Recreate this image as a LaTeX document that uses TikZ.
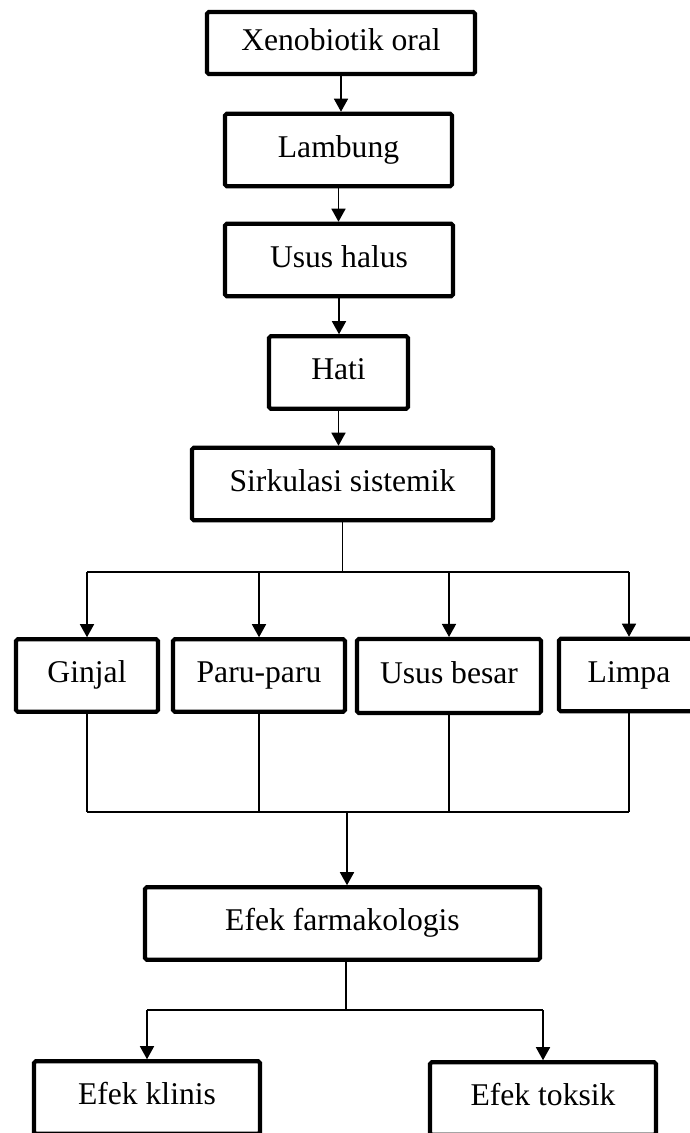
\documentclass[tikz,border=0pt]{standalone}
\usepackage{fontspec}
\setmainfont{Liberation Serif}
\usetikzlibrary{arrows.meta}

\tikzset{
  organ/.style={draw, line width=2.3pt, rounded corners=1pt, minimum height=1.45cm,
    inner sep=2pt, text height=12pt, text depth=4pt, font=\fontsize{18}{22}\selectfont},
  link/.style={line width=0.85pt},
  arr/.style={link, -{Triangle[length=0.26cm,width=0.28cm]}}
}

\begin{document}
\begin{tikzpicture}
  \useasboundingbox (0,0) rectangle (13.8,-22.66);
  % jalur absorpsi
  \node[organ, minimum width=5.36cm, minimum height=1.24cm] (xeno) at (6.82,-0.86) {Xenobiotik oral};
  \node[organ, minimum width=4.54cm] (lambung) at (6.77,-3.0) {Lambung};
  \node[organ, minimum width=4.56cm] (halus) at (6.78,-5.2) {Usus halus};
  \node[organ, minimum width=2.78cm] (hati) at (6.77,-7.45) {Hati};
  \node[organ, minimum width=6.02cm] (sirk) at (6.85,-9.68) {Sirkulasi sistemik};
  \draw[arr] (xeno.south) -- (xeno.south |- lambung.north);
  \draw[arr] (lambung.south) -- (lambung.south |- halus.north);
  \draw[arr] (halus.south) -- (halus.south |- hati.north);
  \draw[arr] (hati.south) -- (hati.south |- sirk.north);
  % distribusi
  \node[organ, minimum width=2.84cm] (ginjal) at (1.74,-13.51) {Ginjal};
  \node[organ, minimum width=3.44cm] (paru) at (5.18,-13.51) {Paru-paru};
  \node[organ, minimum width=3.68cm, minimum height=1.48cm] (besar) at (8.98,-13.52) {Usus besar};
  \node[organ, minimum width=2.80cm] (limpa) at (12.58,-13.5) {Limpa};
  \coordinate (busA) at (6.84,-11.44);
  \coordinate (busB) at (6.94,-16.24);
  \draw[link] (sirk.south) -- (sirk.south |- busA);
  \draw[link] (ginjal.north |- busA) -- (limpa.north |- busA);
  \foreach \o in {ginjal,paru,besar,limpa} {
    \draw[arr] (\o.north |- busA) -- (\o.north);
    \draw[link] (\o.south) -- (\o.south |- busB);
  }
  \draw[link] (ginjal.south |- busB) -- (limpa.south |- busB);
  % efek
  \node[organ, minimum width=7.90cm] (farmako) at (6.85,-18.47) {Efek farmakologis};
  \node[organ, minimum width=4.52cm] (klinis) at (2.94,-21.95) {Efek klinis};
  \node[organ, minimum width=4.52cm] (toksik) at (10.86,-21.97) {Efek toksik};
  \draw[arr] (busB) -- (busB |- farmako.north);
  \coordinate (busC) at (6.92,-20.2);
  \draw[link] (farmako.south -| busC) -- (busC);
  \draw[link] (klinis.north |- busC) -- (toksik.north |- busC);
  \draw[arr] (klinis.north |- busC) -- (klinis.north);
  \draw[arr] (toksik.north |- busC) -- (toksik.north);
\end{tikzpicture}
\end{document}
